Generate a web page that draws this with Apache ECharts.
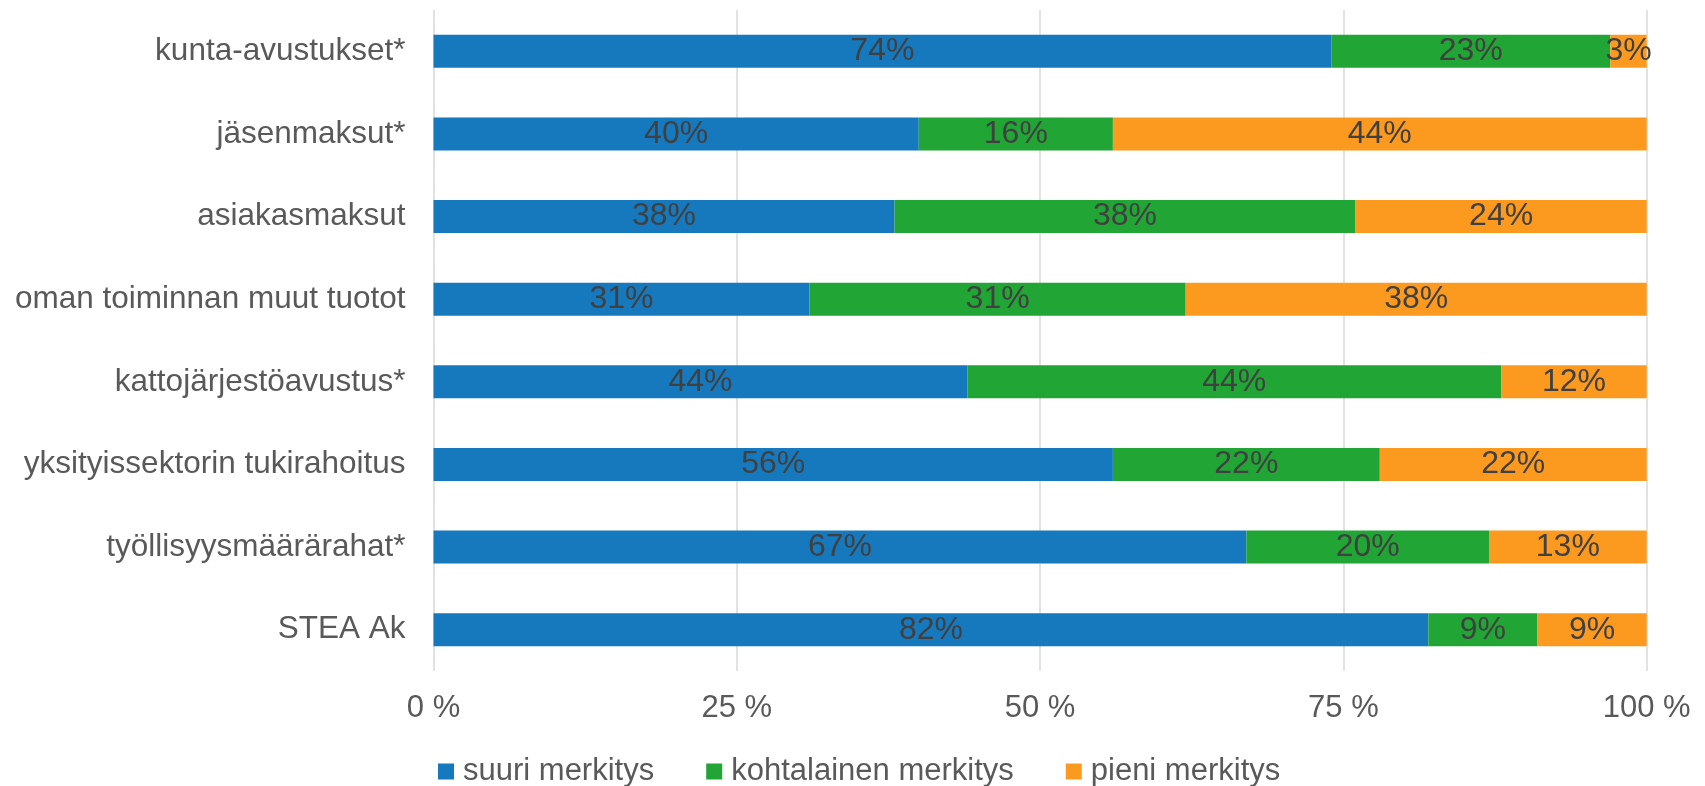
<!DOCTYPE html>
<html>
<head>
<meta charset="utf-8">
<script src="https://cdn.jsdelivr.net/npm/echarts@6/dist/echarts.min.js"></script>
<style>
	html, body { margin: 0; padding: 0; background: #fff; }
	#chart { width: 1705px; height: 786px; }
</style>
</head>
<body>
<div id="chart"></div>
<script>
// kategoriat ylhäältä alas
var categories = ['kunta-avustukset*', 'jäsenmaksut*', 'asiakasmaksut', 'oman toiminnan muut tuotot',
	'kattojärjestöavustus*', 'yksityissektorin tukirahoitus', 'työllisyysmäärärahat*', 'STEA Ak'];
var suuri       = [74, 40, 38, 31, 44, 56, 67, 82];
var kohtalainen = [23, 16, 38, 31, 44, 22, 20, 9];
var pieni       = [3, 44, 24, 38, 12, 22, 13, 9];
var seriesNames = ['suuri merkitys', 'kohtalainen merkitys', 'pieni merkitys'];
var xTicks = [0, 25, 50, 75, 100];

var chart = echarts.init(document.getElementById('chart'));

function makeSeries(name, data, color) {
	return {
		name: name,
		type: 'bar',
		stack: 'all',
		barWidth: 33,
		data: data,
		itemStyle: { color: color },
		label: {
			show: true,
			position: 'inside',
			formatter: '{c}%',
			color: '#404040',
			fontSize: 32,
			fontFamily: 'Liberation Sans, Arial, sans-serif'
		}
	};
}

var option = {
	animation: false,
	textStyle: { fontFamily: 'Liberation Sans, Arial, sans-serif' },
	grid: {
		left: 433.5,
		right: 58.3,
		top: 10,
		bottom: 115
	},
	legend: {
		left: 438,
		top: 756,
		padding: 0,
		itemWidth: 16,
		itemHeight: 16,
		itemGap: 52,
		icon: 'rect',
		textStyle: {
			color: '#595959',
			fontSize: 31,
			padding: [0, 0, 0, 4]
		},
		data: seriesNames
	},
	xAxis: {
		type: 'value',
		min: xTicks[0],
		max: xTicks[xTicks.length - 1],
		interval: 25,
		axisLine: { show: false },
		axisTick: { show: false },
		axisLabel: {
			formatter: '{value} %',
			color: '#595959',
			fontSize: 31,
			margin: 22
		},
		splitLine: {
			show: true,
			lineStyle: { color: '#d9d9d9', width: 1.5 }
		}
	},
	yAxis: {
		type: 'category',
		inverse: true,
		data: categories,
		axisLine: { show: false },
		axisTick: { show: false },
		axisLabel: {
			color: '#595959',
			fontSize: 31.5,
			margin: 28
		}
	},
	series: [
		makeSeries(seriesNames[0], suuri, '#1779bd'),
		makeSeries(seriesNames[1], kohtalainen, '#21a535'),
		makeSeries(seriesNames[2], pieni, '#fc9a20')
	]
};

chart.setOption(option);
</script>
</body>
</html>
